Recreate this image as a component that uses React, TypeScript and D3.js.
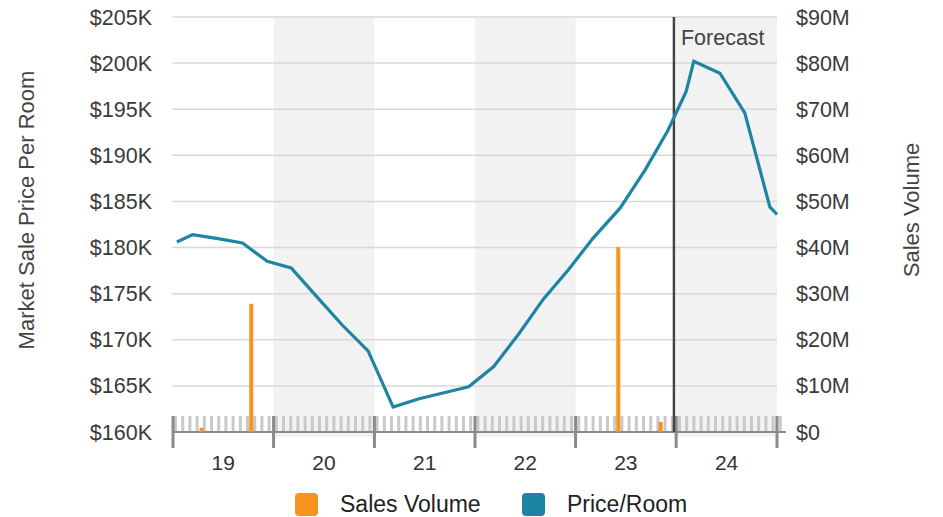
import React from "react";
import * as d3 from "d3";

const priceDates = [
  "2019-01-15", "2019-03-13", "2019-06-08", "2019-09-10", "2019-12-09",
  "2020-03-05", "2020-06-08", "2020-09-06", "2020-12-09",
  "2021-03-10", "2021-06-12", "2021-09-03", "2021-12-09",
  "2022-03-10", "2022-06-08", "2022-09-06", "2022-12-06",
  "2023-03-05", "2023-06-12", "2023-09-10", "2023-12-02",
  "2024-02-06", "2024-03-05", "2024-06-08", "2024-09-06", "2024-12-06", "2025-01-01",
];
const priceValues = [
  180.6, 181.4, 181.0, 180.5, 178.5,
  177.8, 174.6, 171.6, 168.8,
  162.7, 163.6, 164.2, 164.9,
  167.1, 170.6, 174.4, 177.6,
  181.0, 184.3, 188.4, 192.7,
  196.9, 200.2, 198.9, 194.6, 184.4, 183.6,
];
const volumeDates = ["2019-04-15", "2019-10-12", "2023-06-05", "2023-11-06"];
const volumeValues = [0.9, 27.8, 40.1, 2.2];
const yearLabels = ["19", "20", "21", "22", "23", "24"];
const years = [2019, 2020, 2021, 2022, 2023, 2024];
const shadedYears = [2020, 2022, 2024];
const leftTicks = [160, 165, 170, 175, 180, 185, 190, 195, 200, 205];
const rightTicks = [0, 10, 20, 30, 40, 50, 60, 70, 80, 90];
const forecastDate = "2023-12-24";
const legendItems = ["Sales Volume", "Price/Room"];

const FONT = "'Liberation Sans', Arial, Helvetica, sans-serif";
const ORANGE = "#f7931e";
const BLUE = "#1e84a3";

export default function App() {
  const x = d3
    .scaleTime()
    .domain([new Date(2019, 0, 1), new Date(2025, 0, 1)])
    .range([173, 777]);
  const yL = d3.scaleLinear().domain([160, 205]).range([432, 17]);
  const yR = d3.scaleLinear().domain([0, 90]).range([432, 17]);
  const parse = (s: string) => {
    const [a, b, c] = s.split("-").map(Number);
    return new Date(a, b - 1, c);
  };
  const pts = priceDates.map((d, i) => [x(parse(d)), yL(priceValues[i])] as [number, number]);
  const line = d3.line()(pts) || "";

  const stripStart = 172;
  const stripEnd = 786;
  const stripTicks = d3.range(stripStart + 2, stripEnd, 7.2);

  const fx = x(parse(forecastDate));

  return (
    <svg
      width={943}
      height={517}
      style={{ position: "absolute", left: 0, top: 0, background: "#fff" }}
      fontFamily={FONT}
    >
      {shadedYears.map((yr) => (
        <rect
          key={yr}
          x={x(new Date(yr, 0, 1))}
          y={17}
          width={x(new Date(yr + 1, 0, 1)) - x(new Date(yr, 0, 1))}
          height={420}
          fill="#f2f2f2"
        />
      ))}
      {leftTicks.map((t) => (
        <line key={t} x1={172} x2={777} y1={yL(t)} y2={yL(t)} stroke="#d8d8d8" strokeWidth={1.5} />
      ))}
      {leftTicks.map((t) => (
        <text key={t} x={152} y={yL(t)} dy="0.35em" textAnchor="end" fontSize={21.5} fill="#3a3a3a">
          {`$${t}K`}
        </text>
      ))}
      {rightTicks.map((t) => (
        <text key={t} x={796} y={yR(t)} dy="0.35em" textAnchor="start" fontSize={21.5} fill="#3a3a3a">
          {`$${t}${t === 0 ? "" : "M"}`}
        </text>
      ))}
      <text
        transform={`translate(34,210) rotate(-90)`}
        textAnchor="middle"
        fontSize={22}
        fill="#444"
      >
        Market Sale Price Per Room
      </text>
      <text
        transform={`translate(919,210) rotate(-90)`}
        textAnchor="middle"
        fontSize={22}
        fill="#444"
      >
        Sales Volume
      </text>

      {stripTicks.map((sx, i) => (
        <rect key={i} x={sx} y={416} width={3} height={16} fill="#c9c9c9" />
      ))}
      <line x1={172} x2={786} y1={432} y2={432} stroke="#8a8a8a" strokeWidth={2} />
      {years.concat([2025]).map((yr) => (
        <line
          key={yr}
          x1={x(new Date(yr, 0, 1))}
          x2={x(new Date(yr, 0, 1))}
          y1={416}
          y2={448}
          stroke="#8a8a8a"
          strokeWidth={3}
        />
      ))}
      {years.map((yr, i) => (
        <text
          key={yr}
          x={(x(new Date(yr, 0, 1)) + x(new Date(yr + 1, 0, 1))) / 2}
          y={470}
          textAnchor="middle"
          fontSize={21}
          fill="#333"
        >
          {yearLabels[i]}
        </text>
      ))}

      {volumeDates.map((d, i) => (
        <rect
          key={d}
          x={x(parse(d)) - 2}
          y={yR(volumeValues[i])}
          width={4}
          height={yR(0) - yR(volumeValues[i])}
          fill={ORANGE}
        />
      ))}

      <line x1={fx} x2={fx} y1={17} y2={432} stroke="#444" strokeWidth={2.5} />
      <text x={fx + 7} y={45} fontSize={21.5} fill="#444">
        Forecast
      </text>

      <path d={line} fill="none" stroke={BLUE} strokeWidth={3.2} strokeLinejoin="miter" />

      <rect x={295} y={493} width={23} height={23} rx={4} fill={ORANGE} />
      <text x={340} y={512} fontSize={23} fill="#222">
        {legendItems[0]}
      </text>
      <rect x={522} y={493} width={23} height={23} rx={4} fill={BLUE} />
      <text x={567} y={512} fontSize={23} fill="#222">
        {legendItems[1]}
      </text>
    </svg>
  );
}
